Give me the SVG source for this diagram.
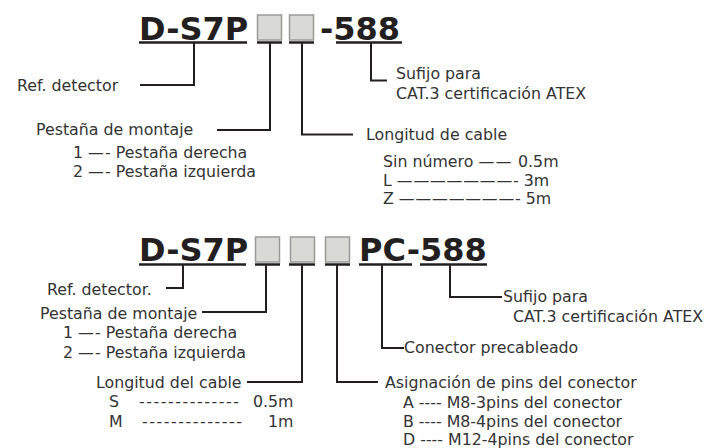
<svg xmlns="http://www.w3.org/2000/svg" width="706" height="448" viewBox="0 0 706 448">
<style>
.t{font-family:"DejaVu Sans","Verdana",sans-serif;font-size:15.8px;fill:#333333}
.h{font-family:"DejaVu Sans","Verdana",sans-serif;font-size:32px;font-weight:bold;fill:#231f20}
.u{stroke:#231f20;stroke-width:2.4;fill:none}
.c{stroke:#231f20;stroke-width:2;fill:none}
.b{fill:#d9d9d5;stroke:#9a9a98;stroke-width:1.5}
.d{letter-spacing:0.8px}
.e{letter-spacing:1.2px}
.f{letter-spacing:1.5px}
</style>
<rect width="706" height="448" fill="#ffffff"/>
<g id="code-top">
<text class="h" x="139" y="39.5">D-S7P</text>
<rect class="b" x="257.5" y="15" width="24" height="25"/>
<rect class="b" x="289.5" y="15" width="24" height="25"/>
<text class="h" x="320" y="39.5">-588</text>
<path class="u" d="M139 42.5H247M257 42.5H282M289 42.5H314M336 42.5H402"/>
</g>
<g id="connectors-top">
<path class="c" d="M194 43V85H140"/>
<path class="c" d="M270 43V130H217"/>
<path class="c" d="M302 43V134.5H353"/>
<path class="c" d="M371 43V80.5H387"/>
</g>
<g id="ref-top"><text class="t" x="17" y="91">Ref. detector</text></g>
<g id="suffix-top"><text class="t" x="396" y="79">Sufijo para</text><text class="t" x="396" y="99">CAT.3 certificación ATEX</text></g>
<g id="flange-top">
<text class="t" x="36" y="135">Pestaña de montaje</text>
<text class="t" x="73" y="158">1 <tspan class="e">—</tspan>- Pestaña derecha</text>
<text class="t" x="73" y="177">2 <tspan class="e">—</tspan>- Pestaña izquierda</text>
</g>
<g id="cable-top">
<text class="t" x="366" y="140">Longitud de cable</text>
<text class="t" x="383" y="167">Sin número <tspan class="f">——</tspan> 0.5m</text>
<text class="t" x="383" y="186">L <tspan class="d">———————</tspan>- 3m</text>
<text class="t" x="383" y="204">Z <tspan class="d">———————</tspan>- 5m</text>
</g>
<g id="code-bottom">
<text class="h" x="139" y="261">D-S7P</text>
<rect class="b" x="255.5" y="237" width="24" height="25"/>
<rect class="b" x="290.5" y="237" width="24" height="25"/>
<rect class="b" x="325.5" y="237" width="24" height="25"/>
<text class="h" x="359" y="261">PC-588</text>
<path class="u" d="M139 264.5H246M255 264.5H280M289 264.5H315M325 264.5H350M359 264.5H412M420 264.5H487"/>
</g>
<g id="connectors-bottom">
<path class="c" d="M183 265V288H166"/>
<path class="c" d="M266 265V312H202"/>
<path class="c" d="M302 265V382H247"/>
<path class="c" d="M337 265V382H378"/>
<path class="c" d="M382 265V348H404"/>
<path class="c" d="M450 265V297H502"/>
</g>
<g id="ref-bottom"><text class="t" x="47" y="295">Ref. detector.</text></g>
<g id="flange-bottom">
<text class="t" x="40" y="319">Pestaña de montaje</text>
<text class="t" x="63" y="338">1 <tspan class="e">—</tspan>- Pestaña derecha</text>
<text class="t" x="63" y="358">2 <tspan class="e">—</tspan>- Pestaña izquierda</text>
</g>
<g id="cable-bottom">
<text class="t" x="96" y="388">Longitud del cable</text>
<text class="t" x="109" y="407">S</text>
<text class="t" x="139" y="407" textLength="100" lengthAdjust="spacing">--------------</text>
<text class="t" x="253" y="407">0.5m</text>
<text class="t" x="109" y="427">M</text>
<text class="t" x="142" y="427" textLength="100" lengthAdjust="spacing">--------------</text>
<text class="t" x="268" y="427">1m</text>
</g>
<g id="pins-bottom">
<text class="t" x="385" y="388">Asignación de pins del conector</text>
<text class="t" x="403" y="408">A ---- M8-3pins del conector</text>
<text class="t" x="403" y="427">B ---- M8-4pins del conector</text>
<text class="t" x="403" y="445">D ---- M12-4pins del conector</text>
</g>
<g id="connector-bottom"><text class="t" x="404" y="353">Conector precableado</text></g>
<g id="suffix-bottom"><text class="t" x="503" y="302">Sufijo para</text><text class="t" x="513" y="322">CAT.3 certificación ATEX</text></g>
</svg>
